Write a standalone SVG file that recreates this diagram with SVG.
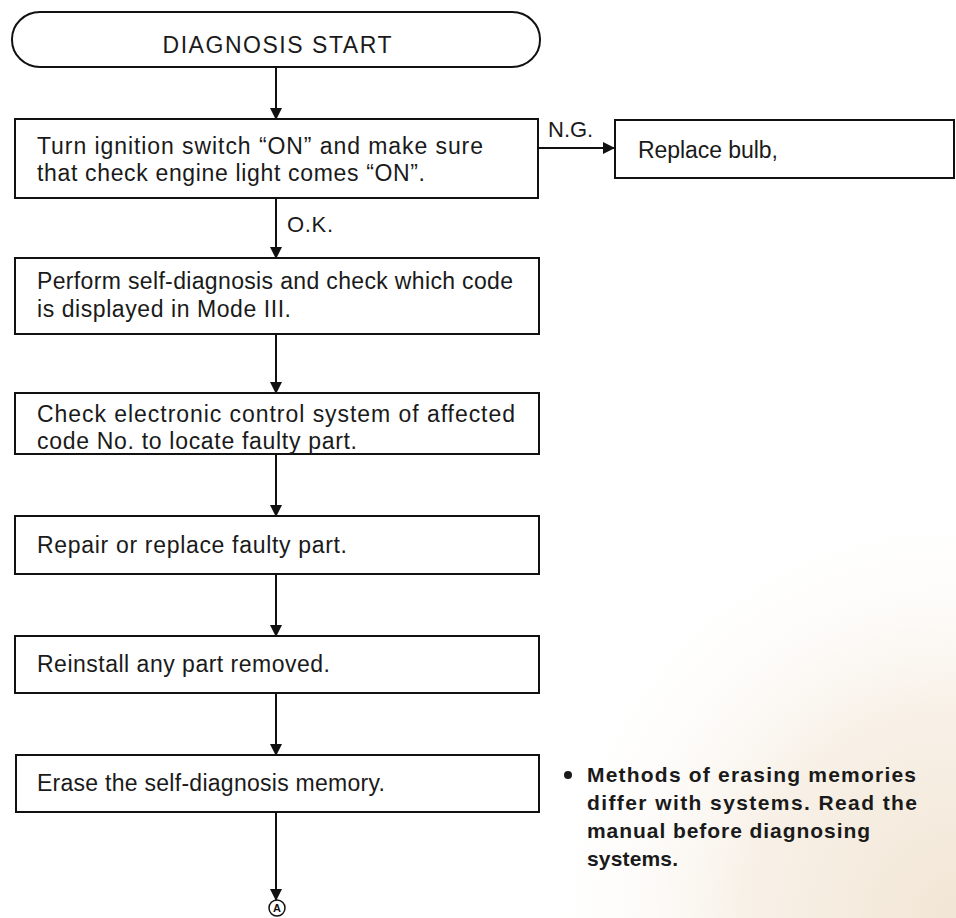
<svg xmlns="http://www.w3.org/2000/svg" width="956" height="918" viewBox="0 0 956 918">
  <defs>
    <marker id="arrow" viewBox="0 0 12 14" refX="11" refY="7" markerWidth="12" markerHeight="14" markerUnits="userSpaceOnUse" orient="auto">
      <path d="M0,1 L12,7 L0,13 Z" fill="#111"/>
    </marker>
    <radialGradient id="paper" cx="956" cy="918" r="430" gradientUnits="userSpaceOnUse">
      <stop offset="0" stop-color="#f2e6d5"/>
      <stop offset="0.5" stop-color="#f8f1e8"/>
      <stop offset="1" stop-color="#ffffff" stop-opacity="0"/>
    </radialGradient>
    <style>
      .box { fill: #ffffff; stroke: #111; stroke-width: 2; }
      .txt { font-family: "Liberation Sans", Arial, sans-serif; font-size: 23px; fill: #1a1a1a; }
      .note { font-family: "Liberation Sans", Arial, sans-serif; font-size: 21px; font-weight: bold; fill: #1a1a1a; }
      .lbl { font-family: "Liberation Sans", Arial, sans-serif; font-size: 22px; fill: #1a1a1a; }
      .conn { stroke: #111; stroke-width: 2; fill: none; }
    </style>
  </defs>

  <!-- page -->
  <rect x="0" y="0" width="956" height="918" fill="#ffffff"/>
  <rect x="0" y="0" width="956" height="918" fill="url(#paper)"/>

  <!-- start terminal -->
  <g id="start">
    <rect class="box" x="12" y="12" width="528" height="55" rx="28" ry="27"/>
    <text class="txt" x="277" y="53" text-anchor="middle" font-size="24" textLength="229">DIAGNOSIS START</text>
  </g>

  <g id="ignition">
    <rect class="box" x="15" y="119" width="523" height="79"/>
    <text class="txt" x="37" y="154" textLength="446">Turn ignition switch “ON” and make sure</text>
    <text class="txt" x="37" y="181" textLength="388">that check engine light comes “ON”.</text>
  </g>

  <g id="replace-bulb">
    <rect class="box" x="615" y="120" width="339" height="58"/>
    <text class="txt" x="638" y="158" textLength="140">Replace bulb,</text>
  </g>

  <g id="self-diagnosis">
    <rect class="box" x="15" y="258" width="524" height="76"/>
    <text class="txt" x="37" y="289" textLength="476">Perform self-diagnosis and check which code</text>
    <text class="txt" x="37" y="317" textLength="254">is displayed in Mode III.</text>
  </g>

  <g id="check-system">
    <rect class="box" x="15" y="393" width="524" height="61"/>
    <text class="txt" x="37" y="422" textLength="478">Check electronic control system of affected</text>
    <text class="txt" x="37" y="449" textLength="320">code No. to locate faulty part.</text>
  </g>

  <g id="repair">
    <rect class="box" x="15" y="516" width="524" height="58"/>
    <text class="txt" x="37" y="553" textLength="310">Repair or replace faulty part.</text>
  </g>

  <g id="reinstall">
    <rect class="box" x="15" y="636" width="524" height="57"/>
    <text class="txt" x="37" y="672" textLength="293">Reinstall any part removed.</text>
  </g>

  <g id="erase">
    <rect class="box" x="16" y="755" width="523" height="57"/>
    <text class="txt" x="37" y="791" textLength="348">Erase the self-diagnosis memory.</text>
  </g>

  <g id="connector-a">
    <circle cx="277" cy="908" r="8" fill="#fff" stroke="#111" stroke-width="1.5"/>
    <text x="277" y="912" text-anchor="middle" font-family="Liberation Sans, Arial, sans-serif" font-size="11" font-weight="bold" fill="#111">A</text>
  </g>

  <g id="note">
    <circle cx="568" cy="775" r="4" fill="#1a1a1a"/>
    <text class="note" x="587" y="782" textLength="329">Methods of erasing memories</text>
    <text class="note" x="587" y="810" textLength="330">differ with systems. Read the</text>
    <text class="note" x="587" y="838" textLength="283">manual before diagnosing</text>
    <text class="note" x="587" y="866" textLength="91">systems.</text>
  </g>

  <!-- flow connectors -->
  <g id="connectors">
    <line class="conn" x1="276" y1="67" x2="276" y2="119" marker-end="url(#arrow)"/>
    <line class="conn" x1="538" y1="148" x2="614" y2="148" marker-end="url(#arrow)"/>
    <line class="conn" x1="276" y1="198" x2="276" y2="258" marker-end="url(#arrow)"/>
    <line class="conn" x1="276" y1="334" x2="276" y2="393" marker-end="url(#arrow)"/>
    <line class="conn" x1="276" y1="454" x2="276" y2="516" marker-end="url(#arrow)"/>
    <line class="conn" x1="276" y1="574" x2="276" y2="636" marker-end="url(#arrow)"/>
    <line class="conn" x1="276" y1="693" x2="276" y2="755" marker-end="url(#arrow)"/>
    <line class="conn" x1="276" y1="812" x2="276" y2="900" marker-end="url(#arrow)"/>
    <text class="lbl" x="548" y="137" font-size="18">N.G.</text>
    <text class="lbl" x="287" y="232" textLength="46">O.K.</text>
  </g>
</svg>
